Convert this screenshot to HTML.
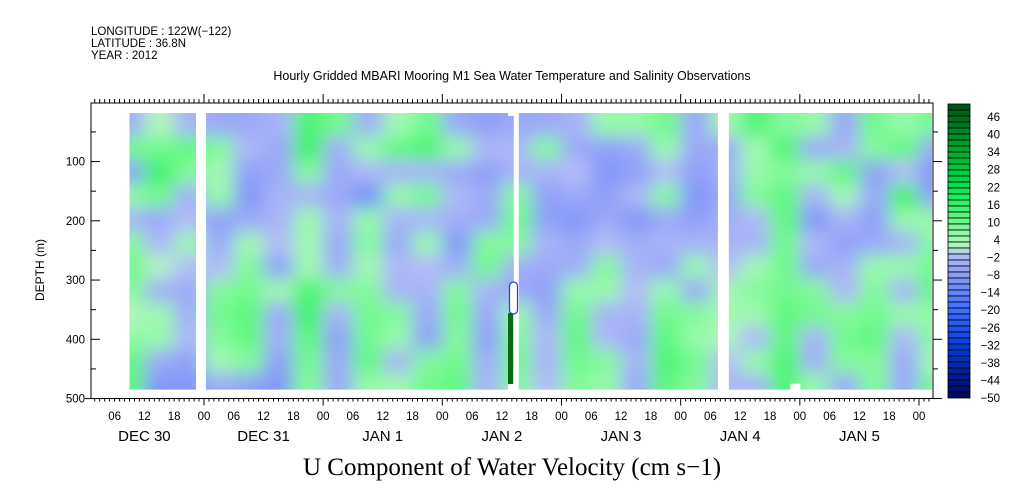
<!DOCTYPE html>
<html><head><meta charset="utf-8"><style>
body{margin:0;background:#fff;}
svg{display:block;font-family:"Liberation Sans",sans-serif;}
</style></head><body>
<svg id="chart" width="1009" height="504" viewBox="0 0 1009 504" xmlns="http://www.w3.org/2000/svg">
<defs>
<filter id="blur" x="-5%" y="-5%" width="110%" height="110%"><feGaussianBlur stdDeviation="9"/></filter>
<clipPath id="dataClip"></clipPath>
</defs>
<g font-size="11.5" fill="#000">
<text x="91" y="35">LONGITUDE : 122W(−122)</text>
<text x="91" y="47">LATITUDE : 36.8N</text>
<text x="91" y="59">YEAR : 2012</text>
<text x="512" y="80" text-anchor="middle" font-size="12.5">Hourly Gridded MBARI Mooring M1 Sea Water Temperature and Salinity Observations</text>
</g>
<g id="heat" clip-path="url(#dataClip)"><g id="cells" filter="url(#blur)"></g></g>
<g id="extras"></g>
<g id="axes" stroke="#000" fill="none"></g>
<g id="labels" fill="#000"></g>
<g id="cbar"></g>
<text x="512" y="475" text-anchor="middle" font-family="Liberation Serif, serif" font-size="25">U Component of Water Velocity (cm s−1)</text>
<text transform="translate(44,270) rotate(-90)" text-anchor="middle" font-size="12">DEPTH (m)</text>
</svg>
<script>
// hours since Dec 30 00:00, bin k covers [6k, 6k+6]
const timeBins = [1,2,3,4,5,6,7,8,9,10,11,12,13,14,15,16,17,18,19,20,21,22,23,24,25,26,27,28];
const depthRowsTop = [18,58,98,138,178,218,258,298,338,378,418,458];
const values = [
[-5,8,-8,5,-4,6,8,6,0,5,10,10],
[0,8,14,8,-6,-3,0,-5,3,4,-6,-10],
[-4,10,6,-5,-2,3,-2,-6,-5,-3,-8,-10],
[-6,6,2,4,-8,-6,-2,6,8,6,2,-6],
[-6,-3,-8,-10,-6,2,6,8,10,10,6,-8],
[-4,-6,-6,-4,-4,-2,-8,2,-6,-5,-8,-10],
[12,14,6,-4,3,3,2,12,14,10,8,6],
[8,-5,-6,-6,-4,-6,-5,6,-4,-8,-6,-6],
[-5,4,-3,-12,4,6,2,6,8,8,10,4],
[2,10,-4,4,-4,-6,-3,-4,6,4,-4,2],
[8,12,-4,8,-4,4,-2,-4,-6,-8,6,8],
[-6,4,-6,-3,-5,-10,-5,6,8,6,8,10],
[-8,-3,-8,-6,-6,6,8,-4,-6,-8,-5,-4],
[-6,-3,-4,6,8,6,-5,-6,4,6,8,6],
[-6,6,-4,-8,-8,-4,-6,-8,-6,-3,-4,-2],
[-4,-6,-2,-6,-10,-6,-5,4,8,10,8,6],
[4,-8,-10,-8,-6,-2,6,4,-4,-3,6,4],
[4,-6,-8,-3,-10,-5,-4,-2,-4,-6,-4,-6],
[8,4,-2,6,-6,-4,-6,4,8,10,12,10],
[-6,-6,-8,-10,-8,-4,4,-6,6,4,8,6],
[2,-6,-5,-7,-5,-4,-2,2,2,0,-2,-3],
[12,2,4,6,-3,-4,2,6,3,-3,4,-4],
[6,12,6,10,10,8,8,8,10,10,12,12],
[4,-6,4,-4,-10,-3,-6,6,8,-4,-5,4],
[-6,-4,10,2,-4,-8,-4,-3,6,8,6,-6],
[8,6,-8,-6,-8,-6,4,6,8,10,6,6],
[4,10,-2,14,4,-4,4,-4,4,-3,-6,-6],
[8,-6,-10,-8,4,6,8,10,4,6,2,8]
];
const segStart = [9,24.4,87.4,129.7];
const segEnd = [22.4,86.4,127.5,170.6];
const depthTicks = [100,200,300,400,500];
const hourLabels = ["06","12","18","00"];
const dayLabels = ["DEC 30","DEC 31","JAN  1","JAN  2","JAN  3","JAN  4","JAN  5"];
const cbarLabels = [46,40,34,28,22,16,10,4,-2,-8,-14,-20,-26,-32,-38,-44,-50];

const NS="http://www.w3.org/2000/svg";
const x = h => 84.8 + h*119.17/24;
const y = d => 102.3 + d*0.5925;
const stops=[[-50,[0,8,90]],[-44,[0,24,140]],[-32,[0,64,220]],[-20,[64,112,255]],[-14,[104,136,248]],[-8,[144,160,248]],[-2,[180,188,248]],[0,[176,246,190]],[4,[150,250,170]],[10,[96,248,128]],[16,[40,240,96]],[22,[0,220,70]],[28,[0,190,60]],[34,[0,160,45]],[40,[0,125,35]],[48,[0,80,20]]];
function color(v){
  for(let i=0;i<stops.length-1;i++){const a=stops[i],b=stops[i+1];
    if(v<=b[0]){const t=Math.max(0,(v-a[0])/(b[0]-a[0]));const c=a[1].map((q,j)=>Math.round(q+(b[1][j]-q)*t));return `rgb(${c})`;}}
  return "rgb(0,80,20)";
}
function mk(tag,attrs,parent){const e=document.createElementNS(NS,tag);for(const k in attrs)e.setAttribute(k,attrs[k]);parent.appendChild(e);return e;}
const cells=document.getElementById('cells');
timeBins.forEach((k,i)=>{
  depthRowsTop.forEach((d,j)=>{
    const x0=x(6*k)-(i==0?30:0), x1=x(6*k+6)+(i==timeBins.length-1?30:0);
    const y0=y(d)-(j==0?30:0), y1=y(d+40)+(j==depthRowsTop.length-1?30:0);
    const r=mk('rect',{x:x0,y:y0,width:x1-x0+0.5,height:y1-y0+0.5,fill:color(values[i][j])},cells);
    
    
  });
});
const clip=document.getElementById('dataClip');
segStart.forEach((s,i)=>{mk('rect',{x:x(s),y:y(18),width:x(segEnd[i])-x(s),height:y(485)-y(18)},clip);});
const ex=document.getElementById('extras');
mk('rect',{x:508,y:313,width:5,height:72,fill:'#0a6a10'},ex);
mk('rect',{x:509.5,y:282,width:8,height:32,rx:4,fill:'#fff',stroke:'#2040d0','stroke-width':1.2},ex);
mk('rect',{x:508,y:384,width:6,height:7,fill:'#fff'},ex);
mk('rect',{x:508,y:112,width:11,height:4,fill:'#fff'},ex);
mk('rect',{x:x(142.1),y:y(475),width:10,height:7,fill:'#fff'},ex);
// axes
const ax=document.getElementById('axes'), lb=document.getElementById('labels');
const L=91,R=933,T=103,B=398.5;
mk('path',{d:`M${L} ${T}H${R}V${B}H${L}Z`,'stroke-width':1},ax);
for(let h=2;h<=170;h++){const xx=x(h);if(xx<=L||xx>=R)continue;const maj=h%24==0;
  mk('line',{x1:xx,y1:T,x2:xx,y2:T-(maj?9:4)},ax);
  mk('line',{x1:xx,y1:B,x2:xx,y2:B+(maj?7:3)},ax);
  if(h%6==0){const t=mk('text',{x:xx,y:420,'text-anchor':'middle','font-size':11.5},lb);t.textContent=hourLabels[(h/6-1)%4];
    }
}
dayLabels.forEach((s,i)=>{const t=mk('text',{x:x(24*i+12),y:441,'text-anchor':'middle','font-size':15,'xml:space':'preserve'},lb);t.textContent=s;
  });
for(let d=50;d<=500;d+=50){const yy=y(d);const maj=d%100==0;
  mk('line',{x1:L-(d==500?6:0),y1:yy,x2:L+(maj?9:5),y2:yy},ax);
  mk('line',{x1:R,y1:yy,x2:R+(maj?9:5),y2:yy},ax);}
depthTicks.forEach(d=>{const t=mk('text',{x:85,y:y(d)+4,'text-anchor':'end','font-size':11.5},lb);t.textContent=d;
  });
// colorbar
const cb=document.getElementById('cbar');
const cx0=948,cw=22,ct=104,cbt=398,n=49,bh=(cbt-ct)/n;
for(let i=0;i<n;i++){const v=47-2*i;const r=mk('rect',{x:cx0,y:ct+i*bh,width:cw,height:bh,fill:color(v),stroke:'#000','stroke-width':0.8},cb);
  }
cbarLabels.forEach((v,i)=>{const yy=117+i*(cbt-117)/16;const t=mk('text',{x:1000,y:yy+4,'text-anchor':'end','font-size':11.5},cb);t.textContent=v<0?'−'+(-v):v;
  });
</script>
</body></html>
